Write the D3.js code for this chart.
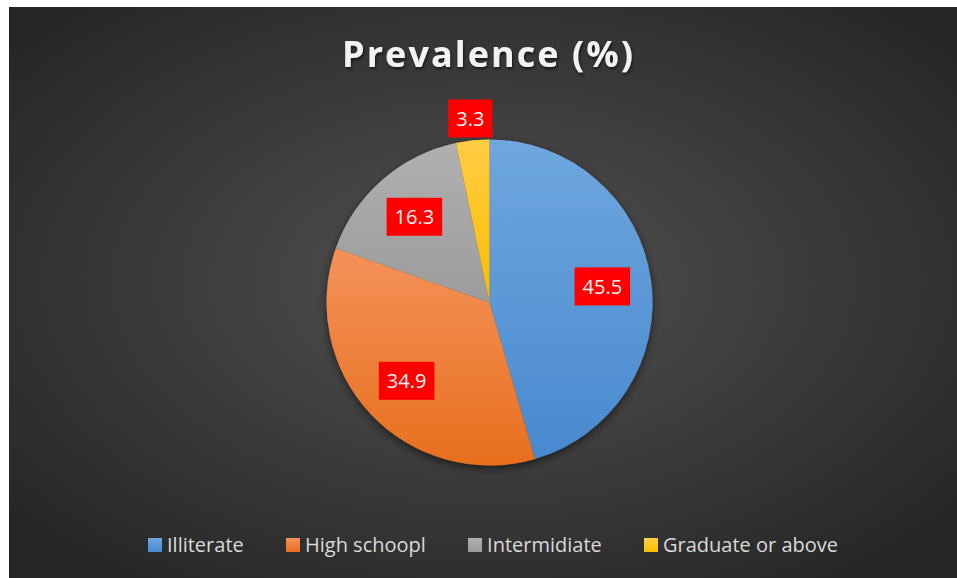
<!DOCTYPE html>
<html>
<head>
<meta charset="utf-8">
<script src="https://cdn.jsdelivr.net/npm/d3@7"></script>
<style>
  html, body { margin: 0; padding: 0; background: #fff; }
  svg { display: block; }
</style>
</head>
<body>
<div id="chart"></div>
<script>
// Data
var categories = ["Illiterate", "High schoopl", "Intermidiate", "Graduate or above"];
var values = [45.5, 34.9, 16.3, 3.3];
var labels = ["45.5", "34.9", "16.3", "3.3"];
var chartTitle = "Prevalence (%)";

// Colours (top / bottom of each slice gradient)
var topColors = ["#6fa7de", "#f4925a", "#b0b0b0", "#ffcd45"];
var bottomColors = ["#4889cf", "#e86f1d", "#9c9c9c", "#fbbd00"];

// Setup
var width = 957, height = 578;
var frame = {left: 9, top: 7};
var cx = 489.5, cy = 302.5, radius = 163;
var legendLeft = 148, legendRight = 838;

var svg = d3.select("#chart").append("svg")
    .attr("width", width)
    .attr("height", height);

var defs = svg.append("defs");

// background gradient
var bg = defs.append("radialGradient")
    .attr("id", "bg")
    .attr("cx", "50%").attr("cy", "48%").attr("r", "65%");
bg.append("stop").attr("offset", "0%").attr("stop-color", "#525252");
bg.append("stop").attr("offset", "100%").attr("stop-color", "#262626");

// slice gradients
categories.forEach(function(c, i) {
    var g = defs.append("linearGradient")
        .attr("id", "slice" + i)
        .attr("x1", 0).attr("y1", 0).attr("x2", 0).attr("y2", 1);
    g.append("stop").attr("offset", "0%").attr("stop-color", topColors[i]);
    g.append("stop").attr("offset", "100%").attr("stop-color", bottomColors[i]);
});

var shadow = defs.append("filter")
    .attr("id", "shadow")
    .attr("x", "-20%").attr("y", "-20%").attr("width", "140%").attr("height", "140%");
shadow.append("feDropShadow")
    .attr("dx", 0).attr("dy", 3)
    .attr("stdDeviation", 4)
    .attr("flood-color", "#000")
    .attr("flood-opacity", 0.55);

var titleShadow = defs.append("filter").attr("id", "tshadow");
titleShadow.append("feDropShadow")
    .attr("dx", 1).attr("dy", 2)
    .attr("stdDeviation", 1.5)
    .attr("flood-color", "#000")
    .attr("flood-opacity", 0.6);

svg.append("rect")
    .attr("x", frame.left).attr("y", frame.top)
    .attr("width", width - frame.left)
    .attr("height", height - frame.top)
    .attr("fill", "url(#bg)");

// Title
svg.append("text")
    .attr("x", 487.5)
    .attr("y", 67)
    .attr("text-anchor", "middle")
    .attr("font-family", "'Open Sans', sans-serif")
    .attr("font-weight", "bold")
    .attr("font-size", 36)
    .attr("textLength", 291)
    .attr("lengthAdjust", "spacing")
    .attr("fill", "#f2f2f2")
    .attr("filter", "url(#tshadow)")
    .text(chartTitle);

// Pie
var pie = d3.pie().sort(null).value(function(d) { return d; });
var arcs = pie(values);

var arc = d3.arc().innerRadius(0).outerRadius(radius);
var inLabelArc = d3.arc().innerRadius(114).outerRadius(114);
var outLabelArc = d3.arc().innerRadius(radius + 22).outerRadius(radius + 22);

var gPie = svg.append("g")
    .attr("transform", "translate(" + cx + "," + cy + ")");

gPie.append("g")
    .attr("filter", "url(#shadow)")
    .selectAll("path")
    .data(arcs).enter().append("path")
    .attr("d", arc)
    .attr("fill", function(d, i) { return "url(#slice" + i + ")"; });

// data labels
var lab = gPie.selectAll("g.label")
    .data(arcs).enter().append("g")
    .attr("class", "label")
    .attr("transform", function(d) {
        var p = d.data < 5 ? outLabelArc.centroid(d) : inLabelArc.centroid(d);
        return "translate(" + p[0] + "," + p[1] + ")";
    });

lab.append("rect").attr("fill", "#ff0000");
lab.append("text")
    .attr("text-anchor", "middle")
    .attr("dy", "0.36em")
    .attr("font-family", "'Open Sans', sans-serif")
    .attr("font-size", 20)
    .attr("fill", "#f2f2f2")
    .text(function(d, i) { return labels[i]; });

lab.each(function() {
    var t = d3.select(this).select("text").node();
    var w = t.getComputedTextLength() + 16;
    d3.select(this).select("rect")
        .attr("x", -w / 2).attr("y", -19)
        .attr("width", w).attr("height", 38);
});

// Legend
var legend = svg.append("g").attr("class", "legend");
var items = legend.selectAll("g")
    .data(categories).enter().append("g");

items.append("rect")
    .attr("y", 538)
    .attr("width", 14).attr("height", 14)
    .attr("fill", function(d, i) { return "url(#slice" + i + ")"; });

items.append("text")
    .attr("x", 19)
    .attr("y", 552)
    .attr("font-family", "'Open Sans', sans-serif")
    .attr("font-size", 20)
    .attr("fill", "#d9d9d9")
    .text(function(d) { return d; });

// spread items evenly across the legend span
var widths = [];
items.each(function() {
    widths.push(19 + d3.select(this).select("text").node().getComputedTextLength());
});
var gap = (legendRight - legendLeft - d3.sum(widths)) / (widths.length - 1);
var xPos = legendLeft;
items.attr("transform", function(d, i) {
    var x = xPos;
    xPos += widths[i] + gap;
    return "translate(" + x + ",0)";
});
</script>
</body>
</html>
